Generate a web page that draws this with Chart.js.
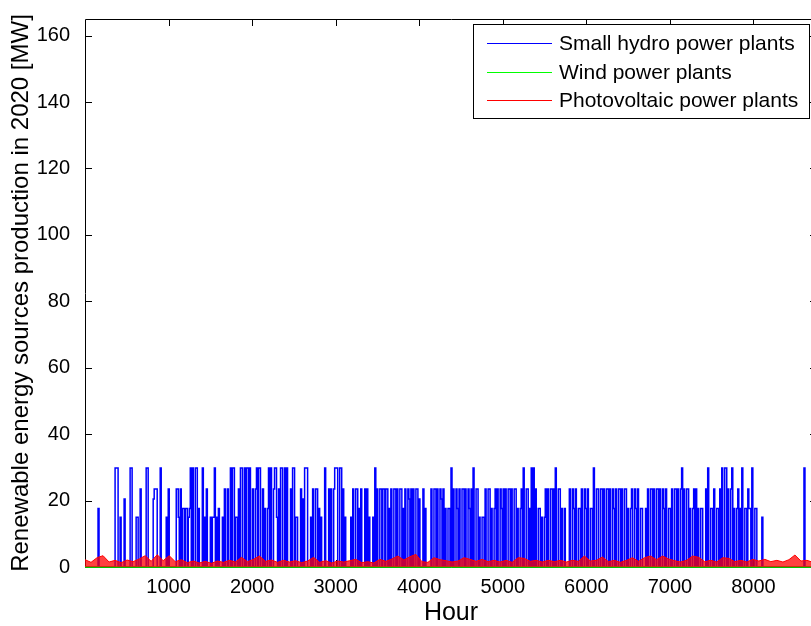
<!DOCTYPE html>
<html>
<head>
<meta charset="utf-8">
<title>Renewable energy sources production in 2020</title>
<script src="https://cdn.jsdelivr.net/npm/chart.js@4/dist/chart.umd.min.js"></script>
<style>
  html, body { margin: 0; padding: 0; background: #fff; overflow: hidden; }
  #wrap { width: 830px; height: 626px; }
  canvas { display: block; }
</style>
</head>
<body>
<div id="wrap"><canvas id="resChart" width="830" height="626"></canvas></div>
<script>
// Series names and colours (legend order)
const seriesNames = ['Small hydro power plants', 'Wind power plants', 'Photovoltaic power plants'];
const seriesColors = ['#0000ff', '#00ff00', '#ff0000'];

// Small hydro [MW]: the plant output only sits on a few levels,
// so each 12 h slot is read off the plot as a level code 0..5
const hydroLevels = [0, 15, 17.6, 20.5, 23.5, 29.8];
const hydroStep = 12;
const hydroCodes = [
  '00000000000000200000', // day 0
  '00000000000555001000',
  '30000055000011004000',
  '00550000034440005000',
  '00104000000044104022',
  '02201250500550200050', // day 50
  '10400010115010200010',
  '40040050550110405500',
  '50550500400450550040',
  '20025050045510405500',
  '50500040550110004030', // day 100
  '55500010400440201000',
  '50004040045550055040',
  '10000010400440204000',
  '40401000105040044044',
  '04402040044040044020', // day 150
  '40043040400440300040',
  '20000040044040043040',
  '20022050400420400440',
  '40042040500440100110',
  '40044020024040042040', // day 200
  '40044040044020024050',
  '04402050504002201001',
  '40400440405004402002',
  '00004004204002204004',
  '20400220500440044040', // day 250
  '04404004204004404004',
  '40200240042040022000',
  '20400440400440400420',
  '40022040044040045040',
  '04402002404020022000', // day 300
  '40500220400220405005',
  '50400450200240205002',
  '20422050022000001000',
  '00000000000000000000',
  '00000000000000000050', // day 350
  '0000000000'
].join('');

// Wind [MW], stays on the zero line all year (monthly points)
const windStep = 730;
const windValues = [0,0,0,0,0,0,0,0,0,0,0,0,0];

// Photovoltaic [MW], peak every 3 days (72 h step)
const pvStep = 72;
const pvValues = [
  2.2,1.4,2.8,3.4,1.5,2.0,1.3,2.1,1.6,2.4,
  3.4,1.7,3.7,1.9,3.4,1.6,2.2,1.3,1.8,1.2,
  1.7,1.1,1.8,1.4,2.0,1.5,2.9,1.6,2.3,3.3,
  1.7,2.1,1.4,2.0,1.5,1.9,1.3,1.8,2.9,1.4,
  1.9,1.2,1.8,1.5,1.9,2.3,1.3,1.6,1.2,2.3,
  1.7,2.4,3.3,2.1,3.1,3.8,1.6,1.4,2.8,2.2,
  1.9,1.5,1.8,2.8,2.3,1.7,2.3,1.6,2.0,1.5,
  2.0,1.4,2.8,2.6,1.7,2.0,1.5,2.0,1.6,2.0,
  1.5,2.0,1.7,3.3,1.8,2.0,3.0,1.6,2.0,1.4,
  2.0,2.8,1.7,2.8,3.3,2.2,3.3,2.4,1.9,1.5,
  2.0,3.3,2.9,1.6,2.0,1.5,2.8,2.6,1.6,2.0,
  1.5,2.3,1.8,2.3,1.6,2.0,1.5,2.2,3.6,1.8,
  2.0,1.4
];

// Axis settings
const xMax = 8760;
const yMax = 165;
const xTickValues = [1000, 2000, 3000, 4000, 5000, 6000, 7000, 8000];
const yTickValues = [0, 20, 40, 60, 80, 100, 120, 140, 160];

const toPoints = (values, step) => values.map((v, i) => ({ x: i * step, y: v }));
const hydroValues = Array.from(hydroCodes, c => hydroLevels[+c]);

const FONT = '"Liberation Sans", Arial, Helvetica, sans-serif';
Chart.defaults.font.family = FONT;
Chart.defaults.color = '#000';

// MATLAB style box: frame + inward ticks
const framePlugin = {
  id: 'frame',
  beforeDatasetsDraw(chart) {
    const { ctx, chartArea: a, scales } = chart;
    ctx.save();
    ctx.strokeStyle = '#000';
    ctx.lineWidth = 1;
    ctx.beginPath();
    ctx.moveTo(a.left + 0.5, a.bottom + 0.5);
    ctx.lineTo(a.left + 0.5, a.top + 0.5);
    ctx.lineTo(a.right + 0.5, a.top + 0.5);
    ctx.lineTo(a.right + 0.5, a.bottom + 0.5);
    ctx.closePath();
    const tl = 7;
    scales.y.ticks.forEach(t => {
      const y = Math.round(scales.y.getPixelForValue(t.value)) + 0.5;
      ctx.moveTo(a.left, y); ctx.lineTo(a.left + tl, y);
      ctx.moveTo(a.right, y); ctx.lineTo(a.right - tl, y);
    });
    scales.x.ticks.forEach(t => {
      const x = Math.round(scales.x.getPixelForValue(t.value)) + 0.5;
      ctx.moveTo(x, a.top); ctx.lineTo(x, a.top + tl);
      ctx.moveTo(x, a.bottom); ctx.lineTo(x, a.bottom - tl);
    });
    ctx.stroke();
    ctx.restore();
  }
};

// Boxed legend in the upper right corner
const boxLegend = {
  id: 'boxLegend',
  afterDatasetsDraw(chart) {
    const { ctx } = chart;
    const box = { x: 473.5, y: 24.5, w: 336, h: 94 };
    ctx.save();
    ctx.fillStyle = '#fff';
    ctx.fillRect(box.x, box.y, box.w, box.h);
    ctx.strokeStyle = '#000';
    ctx.lineWidth = 1;
    ctx.strokeRect(box.x, box.y, box.w, box.h);
    ctx.font = '21px ' + FONT;
    ctx.textBaseline = 'middle';
    ctx.textAlign = 'left';
    seriesNames.forEach((name, i) => {
      const y = Math.round(43 + i * 28.5) + 0.5;
      ctx.strokeStyle = seriesColors[i];
      ctx.beginPath();
      ctx.moveTo(487, y);
      ctx.lineTo(552, y);
      ctx.stroke();
      ctx.fillStyle = '#000';
      ctx.fillText(name, 559, y + 1);
    });
    ctx.restore();
  }
};

const ctx = document.getElementById('resChart').getContext('2d');
new Chart(ctx, {
  type: 'line',
  data: {
    datasets: [
      {
        label: seriesNames[0],
        data: toPoints(hydroValues, hydroStep),
        borderColor: seriesColors[0],
        borderWidth: 1.5,
        stepped: 'after',
        pointRadius: 0,
        fill: false,
        order: 3
      },
      {
        label: seriesNames[1],
        data: toPoints(windValues, windStep),
        borderColor: seriesColors[1],
        borderWidth: 1.5,
        pointRadius: 0,
        fill: false,
        clip: 2,
        order: 2
      },
      {
        label: seriesNames[2],
        data: toPoints(pvValues, pvStep),
        borderColor: seriesColors[2],
        backgroundColor: 'rgba(255,0,0,0.75)',
        borderWidth: 1,
        pointRadius: 0,
        tension: 0,
        fill: 'origin',
        order: 1
      }
    ]
  },
  options: {
    responsive: false,
    animation: false,
    devicePixelRatio: 1,
    layout: { padding: { top: 14, right: 13, left: 0, bottom: 0 } },
    plugins: {
      legend: { display: false },
      tooltip: { enabled: false }
    },
    scales: {
      x: {
        type: 'linear',
        min: 0,
        max: xMax,
        afterFit: s => { s.height = 59; },
        afterBuildTicks: s => { s.ticks = xTickValues.map(v => ({ value: v })); },
        grid: { display: false },
        border: { display: false },
        ticks: {
          autoSkip: false,
          maxRotation: 0,
          padding: 0,
          font: { size: 20 },
          callback: v => String(v)
        },
        title: {
          display: true,
          text: 'Hour',
          font: { size: 25, lineHeight: 1 },
          padding: { top: 0, bottom: 0 }
        }
      },
      y: {
        min: 0,
        max: yMax,
        afterFit: s => { s.width = 85; },
        afterBuildTicks: s => { s.ticks = yTickValues.map(v => ({ value: v })); },
        grid: { display: false },
        border: { display: false },
        ticks: {
          padding: 7,
          font: { size: 20 }
        },
        title: {
          display: true,
          text: 'Renewable energy sources production in 2020 [MW]',
          font: { size: 24, lineHeight: 1 },
          padding: { top: 9, bottom: 0 }
        }
      }
    }
  },
  plugins: [framePlugin, boxLegend]
});
</script>
</body>
</html>
